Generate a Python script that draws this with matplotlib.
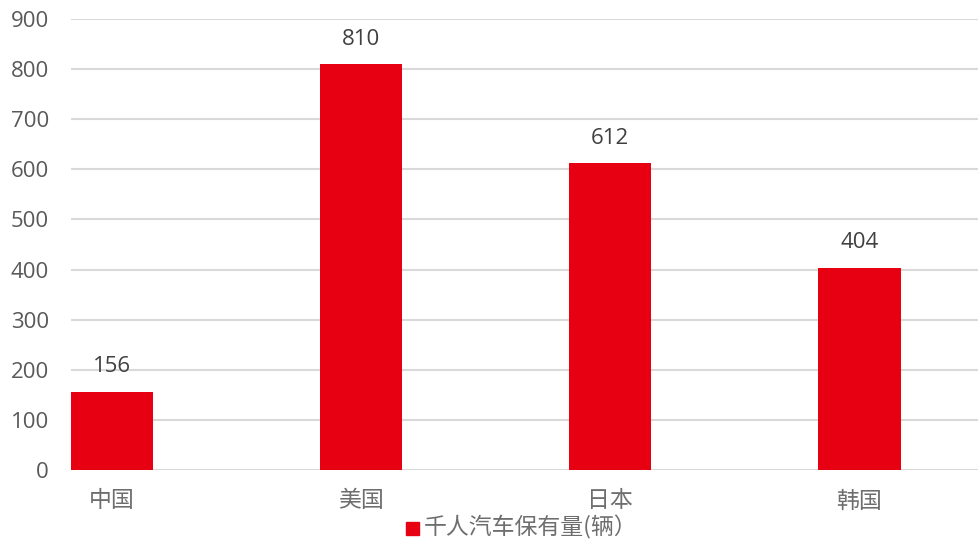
import matplotlib
matplotlib.use("Agg")
import matplotlib.pyplot as plt
from matplotlib.patches import Rectangle

categories = ["中国", "美国", "日本", "韩国"]
values = [156, 810, 612, 404]
yticks = [0, 100, 200, 300, 400, 500, 600, 700, 800, 900]
series_name = "千人汽车保有量(辆）"

bar_color = "#E60012"
grid_color = "#D9D9D9"
tick_color = "#595959"
cjk_color = "#6E6E6E"
label_color = "#404040"
cjk = ["Noto Sans CJK SC", "DejaVu Sans"]
latin = ["Open Sans", "DejaVu Sans"]

fig = plt.figure(figsize=(9.79, 5.40), dpi=100)
ax = fig.add_axes([71 / 979, 70 / 540, 1 - 71 / 979, (470 - 19) / 540])

x = list(range(len(categories)))
width = 0.33
ax.bar(x, values, width=width, color=bar_color, zorder=3)

ax.set_ylim(0, 900)
ax.set_xlim(-width / 2, 3.48)
ax.set_yticks(yticks)
ax.set_yticklabels([str(t) for t in yticks], fontsize=16, color=tick_color,
                   family=latin)
ax.tick_params(axis="y", length=0, pad=16)
ax.set_xticks(x)
ax.set_xticklabels(categories, fontsize=16.5, color=cjk_color, family=cjk,
                   fontweight="light")
ax.tick_params(axis="x", length=0, pad=14)

ax.yaxis.grid(True, color=grid_color, linewidth=1.5, zorder=0)
ax.set_axisbelow(True)
for s in ax.spines.values():
    s.set_visible(False)

for xi, v in zip(x, values):
    ax.annotate(str(v), (xi, v), xytext=(0, 18), textcoords="offset points",
                ha="center", va="center", fontsize=16, color=label_color,
                family=latin)

# legend at bottom center
fig.patches.append(Rectangle((406 / 979, 1 - 535 / 540), 13 / 979, 13 / 540,
                             transform=fig.transFigure, color=bar_color))
fig.text(424 / 979, 1 - 527 / 540, series_name, fontsize=16.5, color=cjk_color,
         family=cjk, fontweight="light", ha="left", va="center")

fig.savefig("out.png", dpi=100)
